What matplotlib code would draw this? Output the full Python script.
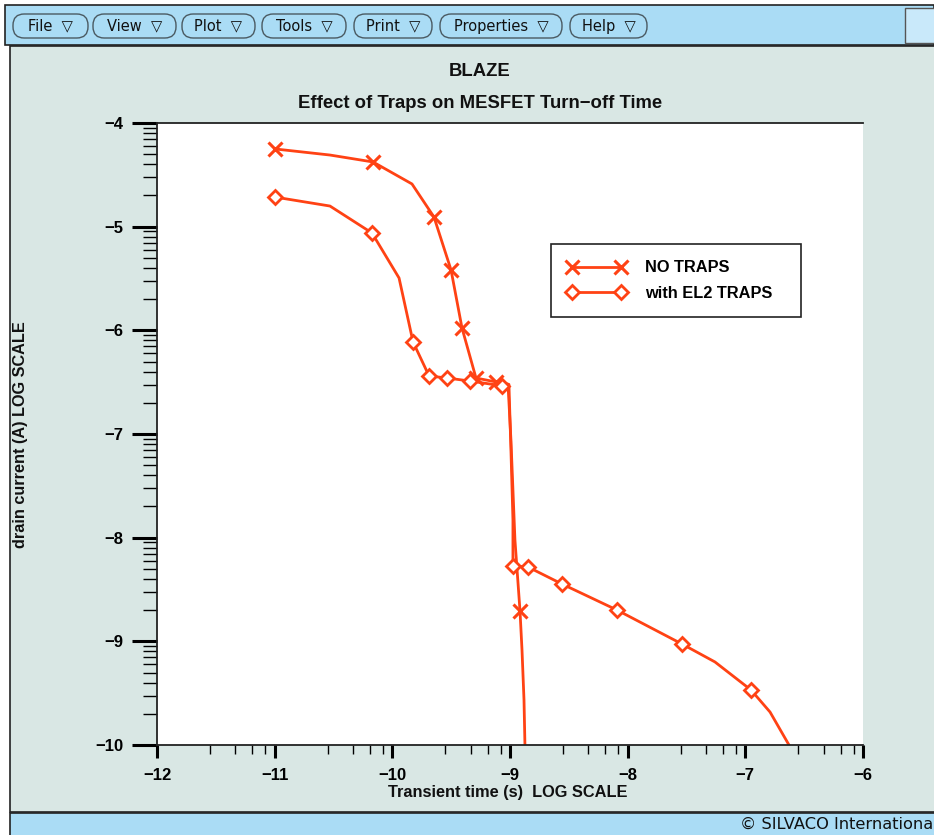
#BLAZE transient plot: effect of traps on MESFET turn-off time
#log10 of drain current against log10 of transient time, redrawn in a Silvaco-like window

import numpy as np
import matplotlib.pyplot as plt
from matplotlib.patches import Rectangle, FancyBboxPatch

# data (log10 values)
t_notraps = [-11.0, -10.53, -10.164, -9.833, -9.646, -9.501, -9.408, -9.289, -9.119,
             -9.017, -8.992, -8.958, -8.915, -8.898, -8.881, -8.873]
i_notraps = [-4.25, -4.309, -4.376, -4.588, -4.907, -5.418, -5.977, -6.46, -6.498,
             -6.518, -7.058, -8.022, -8.707, -9.083, -9.566, -10.0]
mark_notraps = [0, 2, 4, 5, 6, 7, 8, 12]

t_el2 = [-11.0, -10.53, -10.173, -9.943, -9.824, -9.688, -9.535, -9.34, -9.068,
         -9.009, -8.992, -8.975, -8.975, -8.847, -8.558, -8.091, -7.538, -7.258,
         -6.952, -6.79, -6.629]
i_el2 = [-4.714, -4.801, -5.061, -5.495, -6.112, -6.44, -6.46, -6.489, -6.535,
         -6.522, -7.154, -7.83, -8.273, -8.283, -8.447, -8.698, -9.026, -9.199,
         -9.469, -9.682, -10.0]
mark_el2 = [0, 2, 4, 5, 6, 7, 8, 12, 13, 14, 15, 16, 18]

xticks = [-12, -11, -10, -9, -8, -7, -6]
yticks = [-10, -9, -8, -7, -6, -5, -4]
menu = ['File', 'View', 'Plot', 'Tools', 'Print', 'Properties', 'Help']
menu_l = [13, 93, 182, 262, 354, 440, 570]   # button edges in pixels
menu_r = [88, 176, 255, 346, 432, 562, 647]

W, H = 934, 835
red = '#ff4214'
panel = '#d9e7e4'
blue = '#aadcf5'

fig = plt.figure(figsize=(W/100, H/100), dpi=100, facecolor='white')

def px(x0, y0, w, h):
    # pixel box (from top-left) -> figure fraction rectangle
    return (x0/W, 1 - (y0+h)/H), w/W, h/H

def box(x0, y0, w, h, **kw):
    xy, ww, hh = px(x0, y0, w, h)
    fig.patches.append(Rectangle(xy, ww, hh, transform=fig.transFigure, zorder=-5, **kw))

# window frame: menu bar, grey panel, status bar
box(5, 5, 929, 40, fc=blue, ec='#222222', lw=1.2)
box(905, 8, 40, 35, fc='#c9e9fa', ec='#555555', lw=1)
box(10, 46, 930, 766, fc=panel, ec='#222222', lw=1.2)
box(10, 813, 930, 30, fc=blue, ec='#222222', lw=1.2)

for name, l, r in zip(menu, menu_l, menu_r):
    xy, ww, hh = px(l, 14, r - l, 24)
    fig.patches.append(FancyBboxPatch(xy, ww, hh, boxstyle='round,pad=0,rounding_size=0.012',
                                      transform=fig.transFigure, fc=blue, ec='#4a5a62',
                                      lw=1, zorder=-4, mutation_aspect=W/H))
    fig.text((l + r)/2/W, 1 - 26/H, name + '  \u25bd', ha='center', va='center',
             fontsize=10.5, family='DejaVu Sans', color='#111111')

# status bar text, clipped at the window edge as in the original
fig.text(933/W, 1 - 824/H, '\u00a9 SILVACO Internationa', ha='right', va='center',
         fontsize=11.7, family='DejaVu Sans', color='#111111')

# titles
fig.text(480/W, 1 - 72/H, 'BLAZE', ha='center', va='center', fontsize=13.3,
         family='Liberation Sans', weight='bold', color='#111111')
fig.text(480/W, 1 - 104/H, 'Effect of Traps on MESFET Turn\u2212off Time', ha='center',
         va='center', fontsize=13.3, family='Liberation Sans', weight='bold', color='#111111')

# plot area
ax = fig.add_axes([157/W, 1 - 745/H, 706/W, 622/H])
ax.set_facecolor('white')
ax.plot(t_notraps, i_notraps, color=red, lw=2, marker='x', ms=10, mew=2.2,
        markevery=mark_notraps, label='NO TRAPS', clip_on=True)
ax.plot(t_el2, i_el2, color=red, lw=2, marker='D', ms=7.5, mew=2, mfc='white',
        markevery=mark_el2, label='with EL2 TRAPS', clip_on=True)

ax.set_xlim(-12, -6)
ax.set_ylim(-10, -4)
ax.set_xticks(xticks)
ax.set_yticks(yticks)
# minor ticks: log spacing on y, the odd spacing seen on x
ax.set_yticks([d + np.log10(k) for d in yticks[:-1] for k in range(2, 10)], minor=True)
ax.set_xticks([d + f for d in xticks[:-1] for f in (0.45, 0.665, 0.81, 0.92)], minor=True)

ax.tick_params(axis='y', which='major', direction='out', length=18, width=2.2, pad=6,
               labelsize=12)
ax.tick_params(axis='y', which='minor', direction='out', length=10, width=1)
ax.tick_params(axis='x', which='major', direction='out', length=9.5, width=2.2, pad=7,
               labelsize=12)
ax.tick_params(axis='x', which='minor', direction='out', length=6.5, width=1)
for lab in ax.get_xticklabels() + ax.get_yticklabels():
    lab.set_family('Liberation Sans')
    lab.set_weight('bold')

ax.spines['right'].set_visible(False)
for s in ['left', 'bottom', 'top']:
    ax.spines[s].set_linewidth(1.3)
    ax.spines[s].set_color('#222222')

fig.text(508/W, 1 - 793/H, 'Transient time (s)  LOG SCALE', ha='center', va='center',
         fontsize=11.8, family='Liberation Sans', weight='bold', color='#111111')
fig.text(21/W, 1 - 435/H, 'drain current (A) LOG SCALE', ha='center', va='center',
         rotation=90, fontsize=11.7, family='Liberation Sans', weight='bold', color='#111111')

leg = ax.legend(loc='upper left', bbox_to_anchor=(394/706, 0.69, 250/706, 0.8055 - 0.69),
                mode='expand', borderaxespad=0, numpoints=2, handlelength=3.6,
                handletextpad=1.16, borderpad=1.0, labelspacing=0.62, fancybox=False,
                framealpha=1, edgecolor='#222222',
                prop=dict(family='Liberation Sans', weight='bold', size=11.8))
leg.get_frame().set_linewidth(1.2)

plt.savefig('out.png', dpi=100, facecolor=fig.get_facecolor())
